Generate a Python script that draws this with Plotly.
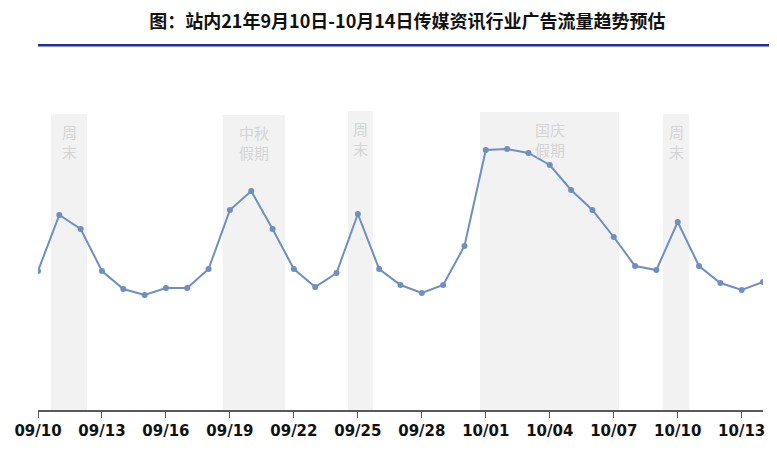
import plotly.graph_objects as go

dates = ["09/10", "09/11", "09/12", "09/13", "09/14", "09/15", "09/16", "09/17",
         "09/18", "09/19", "09/20", "09/21", "09/22", "09/23", "09/24", "09/25",
         "09/26", "09/27", "09/28", "09/29", "09/30", "10/01", "10/02", "10/03",
         "10/04", "10/05", "10/06", "10/07", "10/08", "10/09", "10/10", "10/11",
         "10/12", "10/13", "10/14"]
traffic = [139, 195, 181, 139, 121, 115, 122, 122, 141, 200, 219, 181, 141, 123,
           137, 196, 141, 125, 117, 125, 164, 260, 261, 257, 245, 220, 200, 173,
           144, 140, 188, 144, 127, 120, 128]

# shaded periods: start, end (in day index), label
band_start = [0.61, 8.66, 14.54, 20.73, 29.31]
band_end = [2.31, 11.58, 15.70, 27.25, 30.53]
band_top = [296, 295, 299, 298, 296]
band_label = ["周<br>末", "中秋<br>假期", "周<br>末", "国庆<br>假期", "周<br>末"]

tick_idx = list(range(0, len(dates), 3))
tick_text = [dates[i] for i in tick_idx]

x = list(range(len(dates)))

fig = go.Figure()

for s, e, t, lab in zip(band_start, band_end, band_top, band_label):
    fig.add_shape(type="rect", x0=s, x1=e, y0=0, y1=t, xref="x", yref="y",
                  fillcolor="#F2F2F2", line_width=0, layer="below")
    fig.add_annotation(x=(s + e) / 2, y=t - 5, text=lab, showarrow=False,
                       xanchor="center", yanchor="top", align="center",
                       font=dict(family="Noto Sans CJK SC", size=15, color="#D4D4D4"))

fig.add_trace(go.Scatter(
    x=x, y=traffic, mode="lines+markers",
    line=dict(color="#6F8EC1", width=2),
    marker=dict(color="#6F8EC1", size=6),
    hoverinfo="skip", showlegend=False
))

# title underline
fig.add_shape(type="line", xref="paper", yref="paper", x0=0, x1=1.02,
              y0=1.177, y1=1.177, line=dict(color="#1F2F9F", width=2.5))

fig.update_layout(
    title=dict(text="<b>图：站内21年9月10日-10月14日传媒资讯行业广告流量趋势预估</b>",
               x=0.514, xanchor="center", y=0.97, yanchor="middle",
               font=dict(family="Noto Sans CJK SC", size=18, color="#111111")),
    width=777, height=462,
    margin=dict(l=30, r=22, t=92, b=60),
    plot_bgcolor="white", paper_bgcolor="white",
    xaxis=dict(range=[0, 34], tickmode="array", tickvals=tick_idx, ticktext=tick_text,
               showgrid=False, zeroline=False, showline=True, linecolor="#595959",
               linewidth=1.5, ticks="outside", ticklen=6, tickcolor="#595959",
               tickfont=dict(family="DejaVu Sans", size=15, color="#111111",
                             weight="bold"),
               automargin=False, fixedrange=True),
    yaxis=dict(range=[0, 310], visible=False, automargin=False, fixedrange=True),
)

fig.write_html("out.html")
